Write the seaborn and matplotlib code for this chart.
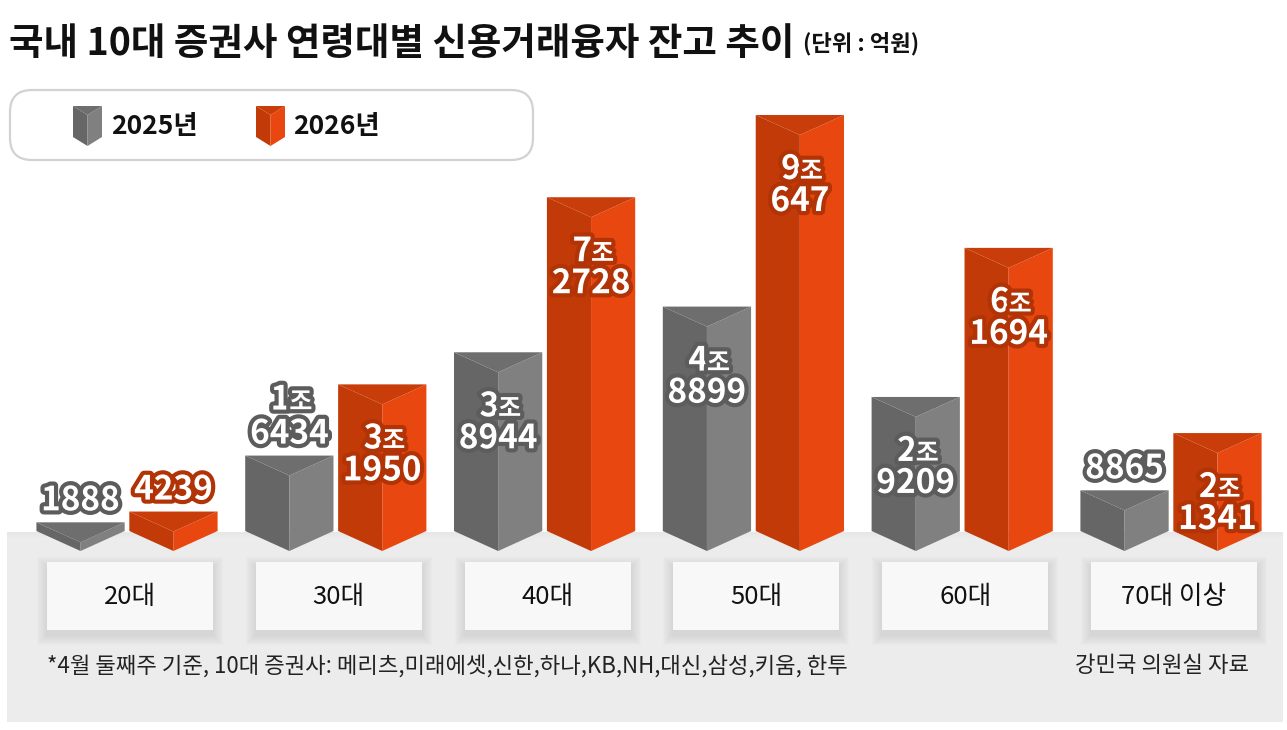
import matplotlib
matplotlib.use('Agg')
import matplotlib.pyplot as plt
import matplotlib.patheffects as pe
from matplotlib.patches import Polygon, Rectangle, FancyBboxPatch
import pandas as pd
import seaborn as sns

# Data (단위: 억원)
ages = ['20대', '30대', '40대', '50대', '60대', '70대 이상']
years = ['2025년', '2026년']
v2025 = [1888, 16434, 38944, 48899, 29209, 8865]
v2026 = [4239, 31950, 72728, 90647, 61694, 21341]

title = '국내 10대 증권사 연령대별 신용거래융자 잔고 추이'
unit_text = '(단위 : 억원)'
note = '*4월 둘째주 기준, 10대 증권사: 메리츠,미래에셋,신한,하나,KB,NH,대신,삼성,키움, 한투'
source = '강민국 의원실 자료'

shades = {
    '2025년': dict(left='#666666', right='#808080', top='#6e6e6e', edge='#5c5c5c'),
    '2026년': dict(left='#c23a08', right='#e8470f', top='#c83d0a', edge='#b13306'),
}

sns.set_style('white')
plt.rcParams['font.family'] = ['Noto Sans CJK KR', 'DejaVu Sans']

df = pd.DataFrame({
    'age': ages * 2,
    'year': [years[0]] * len(ages) + [years[1]] * len(ages),
    'value': v2025 + v2026,
})

fig = plt.figure(figsize=(12.87, 7.30), dpi=100)

# background / decoration layer in pixel coordinates
deco = fig.add_axes([0, 0, 1, 1])
deco.set_xlim(0, 1287)
deco.set_ylim(730, 0)
deco.axis('off')
deco.set_zorder(0)

# bar layer
ax = fig.add_axes([0.01756, 0, 0.97343, 640 / 730])
ax.set_zorder(2)
ax.patch.set_alpha(0)
sns.barplot(data=df, x='age', y='value', hue='year', order=ages, hue_order=years,
            palette={y: shades[y]['right'] for y in years},
            width=0.89, gap=0.05, legend=False, ax=ax)
ax.set_xlim(-0.5, 5.5)
ax.set_ylim(-43362, 96094)
ax.axis('off')
upp = (96094 + 43362) / 640   # value units per pixel
depth = 20 * upp              # chevron depth


def prism(axis, x0, w, top, base, d, c, z=3):
    xm, x1 = x0 + w / 2, x0 + w
    axis.add_patch(Polygon([(x0, top), (xm, top - d), (xm, base - d), (x0, base)],
                           closed=True, fc=c['left'], ec='none', zorder=z))
    axis.add_patch(Polygon([(xm, top - d), (x1, top), (x1, base), (xm, base - d)],
                           closed=True, fc=c['right'], ec='none', zorder=z))
    axis.add_patch(Polygon([(x0, top), (x1, top), (xm, top - d)],
                           closed=True, fc=c['top'], ec='none', zorder=z))


def label(x, v, text, dy_px, size, ha, dx_px, edge):
    ax.annotate(text, xy=(x, v), xytext=(dx_px * 0.72, dy_px * 0.72), textcoords='offset points',
                ha=ha, va='baseline', fontsize=size, weight='bold', color='white', zorder=6,
                path_effects=[pe.withStroke(linewidth=6, foreground=edge)])


for bars, year, vals in zip(ax.containers, years, [v2025, v2026]):
    c = shades[year]
    for p, v in zip(bars, vals):
        p.set_visible(False)
        x0, w = p.get_x(), p.get_width()
        xc = x0 + w / 2
        prism(ax, x0, w, v, 0, depth, c)
        if v >= 20000:
            c1, c2 = -52, -84
        else:
            c1, c2 = 58, 24
        if v >= 10000:
            label(xc, v, str(v // 10000), c1 - 12, 24, 'right', 1, c['edge'])
            label(xc, v, '조', c1 - 12, 18, 'left', 0, c['edge'])
            label(xc, v, str(v % 10000), c2 - 12, 24, 'center', 0, c['edge'])
        else:
            label(xc, v, str(v), c2 - 12, 24, 'center', 0, c['edge'])

# grey floor band
deco.add_patch(Rectangle((7, 532), 1276, 190, fc='#ececec', ec='none', zorder=1))
for k in range(6):
    deco.add_patch(Rectangle((7, 532 + k), 1276, 1, fc='#e2e2e2', ec='none', alpha=0.5 - k * 0.08, zorder=1))

# category boxes
for i, age in enumerate(ages):
    cx = ax.transData.transform((i, 0))[0] + 3
    for k in range(10, 0, -1):
        deco.add_patch(Rectangle((cx - 83 - k, 562 - k + 5), 166 + 2 * k, 68 + 2 * k,
                                 fc='#a8a8a8', ec='none', alpha=0.03, zorder=2))
    deco.add_patch(Rectangle((cx - 83, 562), 166, 68, fc='#f8f8f8', ec='none', zorder=3))
    deco.text(cx, 597, age, ha='center', va='center', fontsize=18.5, color='#111111', zorder=4)

# title
t = deco.text(9, 44, title, fontsize=27, weight='bold', va='center', color='#111111')
deco.annotate(unit_text, xy=(1, 0.5), xycoords=t, xytext=(6, 0), textcoords='offset points',
              ha='left', va='center', fontsize=16, weight='bold', color='#111111')

# legend box
deco.add_patch(FancyBboxPatch((10, 90), 523, 70, boxstyle='round,pad=0,rounding_size=22',
                              fc='white', ec='#d2d2d2', lw=1.6, zorder=2))
for xi, year, tx in [(73, years[0], 111), (256, years[1], 293)]:
    prism(deco, xi, 29, 106, 137, -9, shades[year], z=3)
    deco.text(tx, 127, year, fontsize=19, weight='bold', va='center', color='#111111', zorder=4)

# footnotes
deco.text(47, 667, note, fontsize=16, va='center', color='#222222', zorder=4)
deco.text(1249, 665, source, fontsize=16, va='center', ha='right', color='#222222', zorder=4)

fig.savefig('out.png', dpi=100)
